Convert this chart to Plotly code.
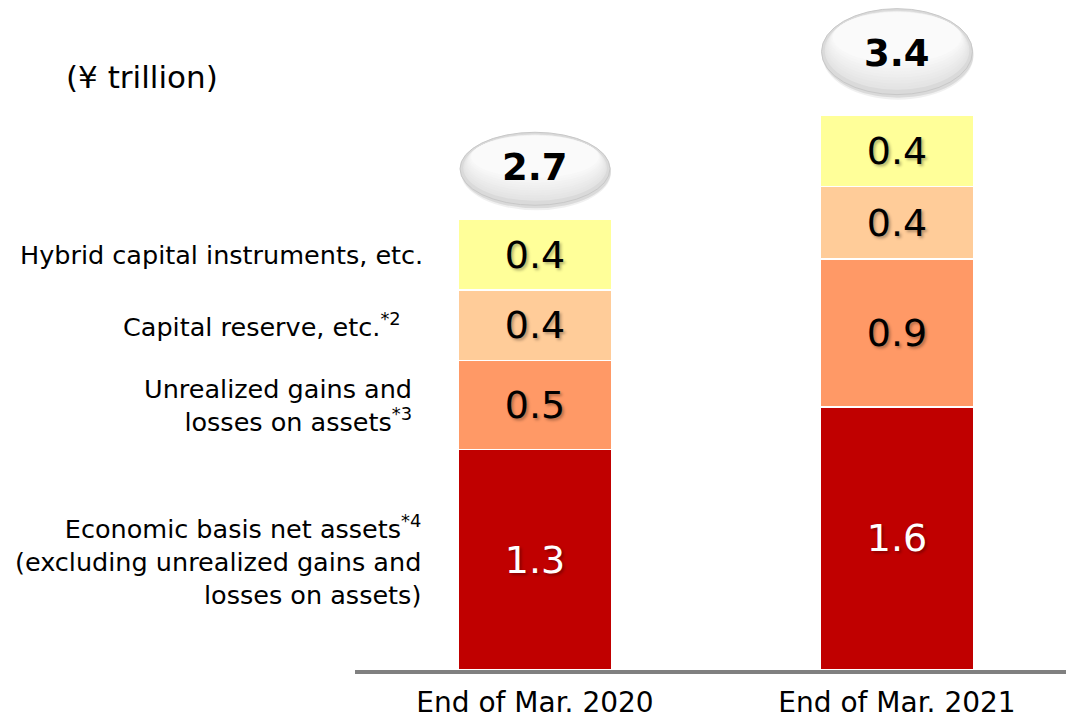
import plotly.graph_objects as go

# Period labels along the horizontal axis
categories = ["End of Mar. 2020", "End of Mar. 2021"]

# Components of capital (¥ trillion), stacked bottom to top
econ_net_assets = [1.34, 1.60]
unrealized_gains = [0.54, 0.90]
capital_reserve = [0.43, 0.44]
hybrid_capital = [0.43, 0.43]

segment_names = [
    "Economic basis net assets<sup>*4</sup><br>(excluding unrealized gains and<br>losses on assets)",
    "Unrealized gains and<br>losses on assets<sup>*3</sup>",
    "Capital reserve, etc.<sup>*2</sup>",
    "Hybrid capital instruments, etc.",
]
unit_label = "(¥ trillion)"

series = [econ_net_assets, unrealized_gains, capital_reserve, hybrid_capital]
colors = ["#C00000", "#FF9966", "#FFCC99", "#FFFF99"]
text_colors = ["#FFFFFF", "#000000", "#000000", "#000000"]
# right edge (px) of each side label
label_right = [423, 414, 403, 425]

FONT = "DejaVu Sans"
W, H = 1066, 718
BASE_PX = 670          # pixel row of the baseline
PX_PER_UNIT = 164.5    # vertical scale

x_pos = list(range(len(categories)))

fig = go.Figure()
for vals, name, col, tcol in zip(series, segment_names, colors, text_colors):
    fig.add_trace(go.Bar(
        x=x_pos, y=vals, name=name,
        marker=dict(color=col, line=dict(color="white", width=1.5)),
        width=0.425,
        texttemplate="%{y:.1f}",
        textposition="inside",
        insidetextanchor="middle",
        textangle=0,
        constraintext="none",
        textfont=dict(family=FONT, size=38, color=tcol,
                      shadow="2px 2px 3px rgba(0,0,0,0.3)"),
        hoverinfo="skip",
        showlegend=False,
    ))

totals = [sum(v) for v in zip(*series)]

# Oval total badges above each bar: (bottom gap, height, width, text lift) in px
badge_geom = [(14, 73, 150, 52), (21, 86, 151, 62)]
for i, (tot, (gap, bh, bw, lift)) in enumerate(zip(totals, badge_geom)):
    def oval(dx0, dx1, dy0, dy1, fill, line=None):
        fig.add_shape(
            type="circle", xref="x", yref="y",
            xsizemode="pixel", ysizemode="pixel",
            xanchor=i, yanchor=tot,
            x0=dx0, x1=dx1, y0=dy0, y1=dy1,
            fillcolor=fill,
            line=dict(color=line or "rgba(0,0,0,0)", width=1 if line else 0),
            layer="above",
        )
    # soft drop shadow
    oval(-bw / 2 + 1, bw / 2 + 1, gap - 5, gap + bh - 3, "rgba(0,0,0,0.06)")
    oval(-bw / 2 + 1, bw / 2 + 1, gap - 3, gap + bh - 2, "rgba(0,0,0,0.09)")
    # body with border
    oval(-bw / 2, bw / 2, gap, gap + bh, "#dadada", "#c8c8c8")
    # lighter layers to suggest a top-lit gradient
    steps = 10
    for k in range(1, steps + 1):
        f = k / steps
        shrink_w = bw * (1 - 0.03 - 0.12 * f)
        bottom = gap + 2 + bh * 0.35 * f
        top = gap + bh - 2 - bh * 0.02 * f
        g = int(0xe2 + (0xfa - 0xe2) * f)
        oval(-shrink_w / 2, shrink_w / 2, bottom, top, f"rgb({g},{g},{g})")
    fig.add_annotation(
        x=i, y=tot, xref="x", yref="y", yshift=lift,
        text=f"<b>{tot:.1f}</b>", showarrow=False,
        font=dict(family=FONT, size=37, color="#000000"),
    )

# Segment names to the left, aligned with the first bar's segments
cum = 0.0
for vals, name, xr in zip(series, segment_names, label_right):
    mid = cum + vals[0] / 2
    cum += vals[0]
    fig.add_annotation(
        x=xr / W, xref="paper", y=mid, yref="y",
        text=name, showarrow=False, xanchor="right", align="right",
        font=dict(family=FONT, size=25.5, color="#000000"),
    )

fig.add_annotation(
    x=64 / W, xref="paper", y=1 - 77 / BASE_PX, yref="paper",
    text=unit_label, showarrow=False, xanchor="left", yanchor="middle",
    font=dict(family=FONT, size=31, color="#000000"),
)

x_left = 355
x0_px = 535
x_step = 362
fig.update_layout(
    width=W, height=H,
    margin=dict(l=0, r=0, t=0, b=H - BASE_PX, autoexpand=False),
    barmode="stack",
    paper_bgcolor="white", plot_bgcolor="white",
    xaxis=dict(
        domain=[x_left / W, 1],
        range=[-(x0_px - x_left) / x_step, (W - x0_px) / x_step],
        tickvals=x_pos, ticktext=categories,
        showline=True, linecolor="#808080", linewidth=4,
        ticks="outside", ticklen=4, tickcolor="rgba(0,0,0,0)",
        tickfont=dict(family=FONT, size=28, color="#000000"),
        showgrid=False, zeroline=False, fixedrange=True,
    ),
    yaxis=dict(range=[0, BASE_PX / PX_PER_UNIT], visible=False, fixedrange=True),
)

fig.write_html("out.html", config={"displayModeBar": False})
